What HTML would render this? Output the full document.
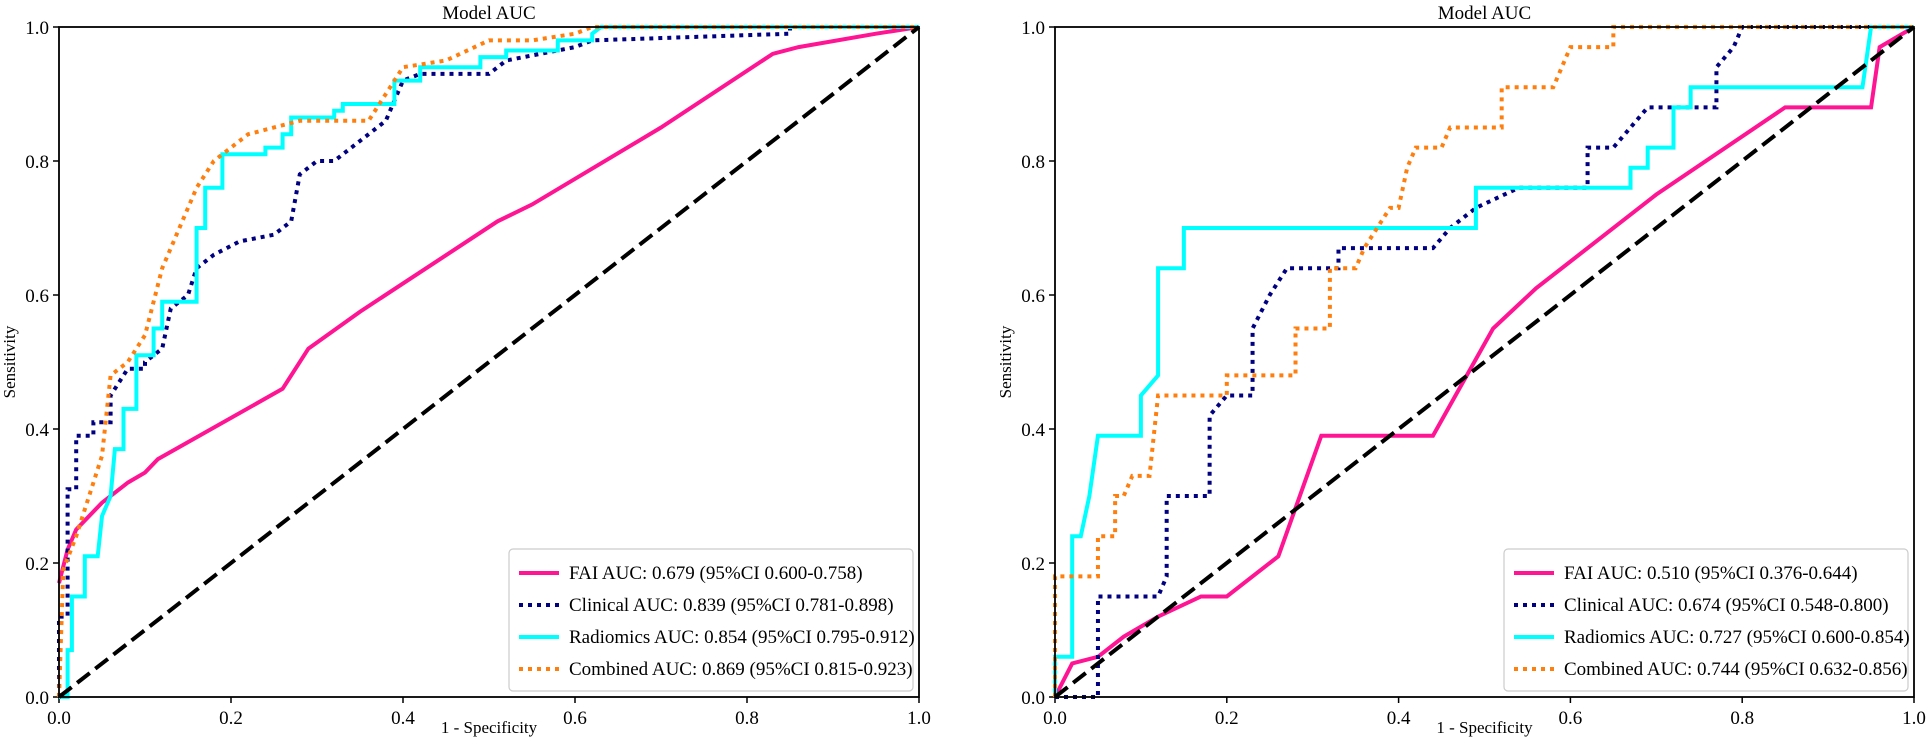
<!DOCTYPE html>
<html><head><meta charset="utf-8"><style>
body{margin:0;background:#fff}
svg{display:block;font-family:"Liberation Serif",serif}
</style></head><body>
<svg id="s" width="1930" height="751" xmlns="http://www.w3.org/2000/svg"></svg>
<script>
const NS="http://www.w3.org/2000/svg",S=document.getElementById('s');
function el(t,a,txt){const e=document.createElementNS(NS,t);for(const k in a)e.setAttribute(k,a[k]);if(txt!=null)e.textContent=txt;S.appendChild(e);return e;}
function plot(x0,x1,y0,y1,series,labels){
 const W=x1-x0,H=y1-y0,X=v=>x0+v*W,Y=v=>y1-v*H;
 el('text',{x:(x0+x1)/2,y:19,'text-anchor':'middle','font-size':19},'Model AUC');
 el('text',{x:(x0+x1)/2,y:733,'text-anchor':'middle','font-size':17},'1 - Specificity');
 el('text',{x:0,y:0,'text-anchor':'middle','font-size':17,transform:`translate(${x0-44},${(y0+y1)/2}) rotate(-90)`},'Sensitivity');
 for(let i=0;i<=5;i++){const v=i/5,t=v.toFixed(1);
  el('line',{x1:X(v),x2:X(v),y1:y1,y2:y1+6,stroke:'#000','stroke-width':1.5});
  el('text',{x:X(v),y:y1+27,'text-anchor':'middle','font-size':19},t);
  el('line',{x1:x0-6,x2:x0,y1:Y(v),y2:Y(v),stroke:'#000','stroke-width':1.5});
  el('text',{x:x0-10,y:Y(v)+7,'text-anchor':'end','font-size':19},t);}
 const st={fai:{c:'#ff1493',d:''},cl:{c:'#000080',d:'4,5'},ra:{c:'#00ffff',d:''},co:{c:'#ff7f0e',d:'4,5'}};
 for(const k of ['fai','cl','ra','co']){
  el('polyline',{points:series[k].map(p=>X(p[0])+','+Y(p[1])).join(' '),fill:'none',stroke:st[k].c,'stroke-width':4,'stroke-dasharray':st[k].d,'stroke-linejoin':'miter'});}
 el('line',{x1:X(0),y1:Y(0),x2:X(1),y2:Y(1),stroke:'#000','stroke-width':4,'stroke-dasharray':'16,7'});
 el('rect',{x:x0,y:y0,width:W,height:H,fill:'none',stroke:'#000','stroke-width':1.8});
 const lx=x1-410,ly=y1-148;
 el('rect',{x:lx,y:ly,width:404,height:142,rx:4,fill:'#fff',stroke:'#ccc','stroke-width':1.2});
 ['fai','cl','ra','co'].forEach((k,i)=>{const yy=ly+24+i*32;
  el('line',{x1:lx+10,x2:lx+50,y1:yy,y2:yy,stroke:st[k].c,'stroke-width':4,'stroke-dasharray':st[k].d});
  el('text',{x:lx+60,y:yy+6,'font-size':19},labels[i]);});
}
const L={
fai:[[0,0.17],[0.01,0.22],[0.02,0.25],[0.05,0.29],[0.08,0.32],[0.1,0.335],[0.115,0.355],[0.26,0.46],[0.29,0.52],[0.35,0.575],[0.51,0.71],[0.55,0.735],[0.7,0.85],[0.83,0.96],[0.86,0.97],[0.95,0.99],[1,1]],
cl:[[0,0],[0,0.12],[0.01,0.12],[0.01,0.31],[0.02,0.31],[0.02,0.39],[0.04,0.39],[0.04,0.41],[0.06,0.41],[0.06,0.45],[0.08,0.49],[0.1,0.49],[0.1,0.5],[0.12,0.52],[0.13,0.58],[0.15,0.6],[0.16,0.64],[0.18,0.66],[0.21,0.68],[0.25,0.69],[0.27,0.71],[0.28,0.78],[0.3,0.8],[0.32,0.8],[0.35,0.83],[0.38,0.86],[0.4,0.92],[0.42,0.93],[0.5,0.93],[0.52,0.95],[0.6,0.97],[0.62,0.98],[0.85,0.99],[0.85,1],[1,1]],
ra:[[0,0],[0.01,0],[0.01,0.07],[0.015,0.07],[0.015,0.15],[0.03,0.15],[0.03,0.21],[0.045,0.21],[0.05,0.27],[0.06,0.3],[0.065,0.37],[0.075,0.37],[0.075,0.43],[0.09,0.43],[0.09,0.51],[0.11,0.51],[0.11,0.55],[0.12,0.55],[0.12,0.59],[0.16,0.59],[0.16,0.70],[0.17,0.70],[0.17,0.76],[0.19,0.76],[0.19,0.81],[0.24,0.81],[0.24,0.82],[0.26,0.82],[0.26,0.84],[0.27,0.84],[0.27,0.865],[0.32,0.865],[0.32,0.875],[0.33,0.875],[0.33,0.885],[0.39,0.885],[0.39,0.92],[0.42,0.92],[0.42,0.94],[0.49,0.94],[0.49,0.955],[0.52,0.955],[0.52,0.965],[0.58,0.965],[0.58,0.98],[0.62,0.98],[0.62,0.99],[0.63,1],[1,1]],
co:[[0,0],[0.005,0.19],[0.02,0.24],[0.03,0.28],[0.05,0.36],[0.06,0.48],[0.08,0.5],[0.1,0.54],[0.12,0.64],[0.14,0.7],[0.16,0.76],[0.18,0.8],[0.2,0.82],[0.22,0.84],[0.28,0.86],[0.36,0.86],[0.38,0.9],[0.4,0.94],[0.45,0.95],[0.5,0.98],[0.55,0.98],[0.6,0.99],[0.62,1],[1,1]]};
const R={
fai:[[0,0],[0.02,0.05],[0.05,0.06],[0.08,0.09],[0.12,0.12],[0.17,0.15],[0.2,0.15],[0.26,0.21],[0.31,0.39],[0.36,0.39],[0.44,0.39],[0.51,0.55],[0.56,0.61],[0.7,0.75],[0.85,0.88],[0.95,0.88],[0.96,0.97],[1,1]],
cl:[[0,0],[0.05,0],[0.05,0.15],[0.12,0.15],[0.13,0.18],[0.13,0.3],[0.18,0.3],[0.18,0.42],[0.2,0.45],[0.23,0.45],[0.23,0.55],[0.25,0.6],[0.27,0.64],[0.33,0.64],[0.33,0.67],[0.44,0.67],[0.46,0.7],[0.49,0.73],[0.54,0.76],[0.62,0.76],[0.62,0.82],[0.65,0.82],[0.67,0.85],[0.69,0.88],[0.77,0.88],[0.77,0.94],[0.79,0.97],[0.8,1],[1,1]],
ra:[[0,0],[0,0.06],[0.02,0.06],[0.02,0.24],[0.03,0.24],[0.04,0.3],[0.05,0.39],[0.1,0.39],[0.1,0.45],[0.12,0.48],[0.12,0.64],[0.15,0.64],[0.15,0.7],[0.49,0.7],[0.49,0.76],[0.67,0.76],[0.67,0.79],[0.69,0.79],[0.69,0.82],[0.72,0.82],[0.72,0.88],[0.74,0.88],[0.74,0.91],[0.94,0.91],[0.95,1],[1,1]],
co:[[0,0],[0,0.18],[0.05,0.18],[0.05,0.24],[0.07,0.24],[0.07,0.3],[0.08,0.3],[0.09,0.33],[0.11,0.33],[0.12,0.45],[0.2,0.45],[0.2,0.48],[0.28,0.48],[0.28,0.55],[0.32,0.55],[0.32,0.64],[0.35,0.64],[0.36,0.67],[0.39,0.73],[0.4,0.73],[0.41,0.79],[0.42,0.82],[0.45,0.82],[0.46,0.85],[0.52,0.85],[0.52,0.91],[0.58,0.91],[0.6,0.97],[0.65,0.97],[0.65,1],[1,1]]};
plot(59,919,27,697,L,['FAI AUC: 0.679 (95%CI 0.600-0.758)','Clinical AUC: 0.839 (95%CI 0.781-0.898)','Radiomics AUC: 0.854 (95%CI 0.795-0.912)','Combined AUC: 0.869 (95%CI 0.815-0.923)']);
plot(1055,1914,27,697,R,['FAI AUC: 0.510 (95%CI 0.376-0.644)','Clinical AUC: 0.674 (95%CI 0.548-0.800)','Radiomics AUC: 0.727 (95%CI 0.600-0.854)','Combined AUC: 0.744 (95%CI 0.632-0.856)']);
</script>
</body></html>
